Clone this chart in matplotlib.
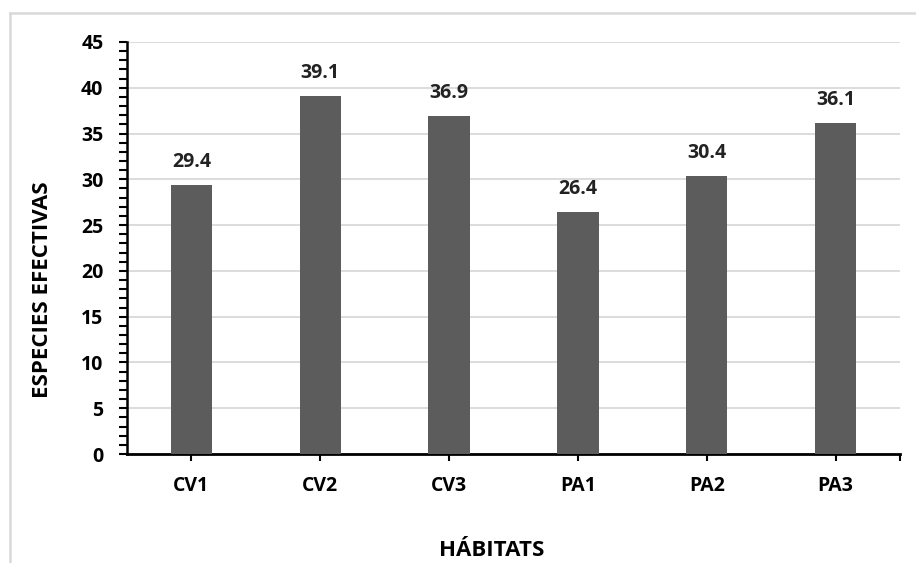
import numpy as np
import matplotlib
matplotlib.use("Agg")
from matplotlib import pyplot as plt
from matplotlib.lines import Line2D
from matplotlib.ticker import MultipleLocator

# Data
habitats = ["CV1", "CV2", "CV3", "PA1", "PA2", "PA3"]
especies = [29.4, 39.1, 36.9, 26.4, 30.4, 36.1]
etiquetas = ["29.4", "39.1", "36.9", "26.4", "30.4", "36.1"]

plt.rcParams['font.family'] = ['Open Sans', 'DejaVu Sans']
plt.rcParams['font.weight'] = 'bold'

W, H = 916, 563
fig = plt.figure(figsize=(W / 100, H / 100), dpi=100)
ax = fig.add_axes([127 / W, 1 - 454 / H, (900 - 127) / W, (454 - 42) / H])

x = np.arange(len(habitats))
ax.bar(x, especies, width=0.32, color="#5c5c5c", zorder=3)

for xi, v, lab in zip(x, especies, etiquetas):
    ax.annotate(lab, (xi, v), xytext=(0, 13), textcoords="offset points",
                ha="center", va="baseline", fontsize=14, fontweight="bold",
                color="#222222")

ax.set_xlim(-0.5, len(habitats) - 0.5)
ax.set_ylim(0, 45)
ax.yaxis.set_major_locator(MultipleLocator(5))
ax.yaxis.set_minor_locator(MultipleLocator(1))
ax.grid(axis="y", color="#d9d9d9", linewidth=1.3, zorder=0)

ax.set_xticks(list(x) + [len(habitats) - 0.5])
ax.set_xticklabels(habitats + [""])
ax.tick_params(axis="x", direction="out", length=5, width=1.5, pad=11,
               labelsize=14, colors="black")
ax.tick_params(axis="y", which="major", direction="out", length=6, width=1.5,
               pad=11, labelsize=14)
ax.tick_params(axis="y", which="minor", direction="out", length=6, width=1.5)
for lbl in ax.get_xticklabels() + ax.get_yticklabels():
    lbl.set_fontweight("bold")

for s in ["top", "right"]:
    ax.spines[s].set_visible(False)
ax.spines["left"].set_linewidth(1.8)
ax.spines["bottom"].set_linewidth(2)
ax.spines["bottom"].set_bounds(-0.5, len(habitats) - 0.5)

fig.text(43 / W, 1 - 290 / H, "ESPECIES EFECTIVAS", rotation=90,
         ha="center", va="center", fontsize=16, fontweight="bold")
fig.text(492 / W, 1 - 550 / H, "HÁBITATS", ha="center", va="center",
         fontsize=16, fontweight="bold")

# chart frame (light gray border, left and top)
fig.add_artist(Line2D([10 / W, 10 / W], [0, 1 - 13 / H], color="#d9d9d9",
                      linewidth=1.8, transform=fig.transFigure))
fig.add_artist(Line2D([10 / W, 1], [1 - 13 / H, 1 - 13 / H], color="#d9d9d9",
                      linewidth=1.8, transform=fig.transFigure))

fig.savefig("out.png", dpi=100)
